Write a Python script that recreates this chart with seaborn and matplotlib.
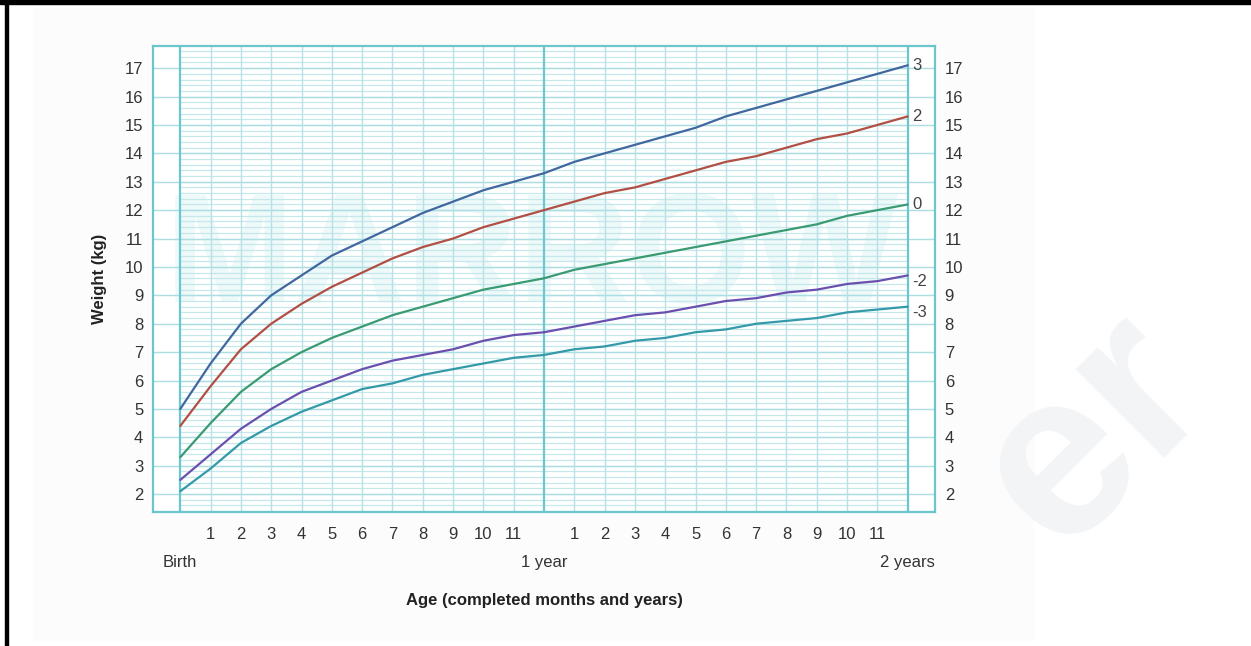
import numpy as np
import pandas as pd
import seaborn as sns
import matplotlib.pyplot as plt
from matplotlib.patches import Rectangle

# weight-for-age (kg), one value per completed month, birth .. 24 months
mesi = list(range(25))
z_piu3 = [5.0, 6.6, 8.0, 9.0, 9.7, 10.4, 10.9, 11.4, 11.9, 12.3, 12.7, 13.0, 13.3,
          13.7, 14.0, 14.3, 14.6, 14.9, 15.3, 15.6, 15.9, 16.2, 16.5, 16.8, 17.1]
z_piu2 = [4.4, 5.8, 7.1, 8.0, 8.7, 9.3, 9.8, 10.3, 10.7, 11.0, 11.4, 11.7, 12.0,
          12.3, 12.6, 12.8, 13.1, 13.4, 13.7, 13.9, 14.2, 14.5, 14.7, 15.0, 15.3]
z_zero = [3.3, 4.5, 5.6, 6.4, 7.0, 7.5, 7.9, 8.3, 8.6, 8.9, 9.2, 9.4, 9.6,
          9.9, 10.1, 10.3, 10.5, 10.7, 10.9, 11.1, 11.3, 11.5, 11.8, 12.0, 12.2]
z_meno2 = [2.5, 3.4, 4.3, 5.0, 5.6, 6.0, 6.4, 6.7, 6.9, 7.1, 7.4, 7.6, 7.7,
           7.9, 8.1, 8.3, 8.4, 8.6, 8.8, 8.9, 9.1, 9.2, 9.4, 9.5, 9.7]
z_meno3 = [2.1, 2.9, 3.8, 4.4, 4.9, 5.3, 5.7, 5.9, 6.2, 6.4, 6.6, 6.8, 6.9,
           7.1, 7.2, 7.4, 7.5, 7.7, 7.8, 8.0, 8.1, 8.2, 8.4, 8.5, 8.6]
etichette_z = ["3", "2", "0", "-2", "-3"]
tick_mesi = [m for m in range(1, 24) if m != 12]
tick_kg = list(range(2, 18))

curve = dict(zip(etichette_z, [z_piu3, z_piu2, z_zero, z_meno2, z_meno3]))
df = pd.concat([pd.DataFrame({"mese": mesi, "peso": v, "z": k}) for k, v in curve.items()])

colori = {"3": "#41679f", "2": "#b14f45", "0": "#3a9a72", "-2": "#6b4fae", "-3": "#3499a8"}
ciano = "#6cc6cd"

sns.set_style("white")
plt.rcParams["font.family"] = ["Liberation Sans", "DejaVu Sans"]

fig = plt.figure(figsize=(12.51, 6.46), dpi=100)
# sfondo leggermente grigio e bordo nero (screenshot ritagliato)
fig.patches.append(Rectangle((33 / 1251, 6 / 646), 1000 / 1251, 632 / 646,
                             transform=fig.transFigure, color="#fcfcfc", zorder=-10))
fig.patches.append(Rectangle((0, 1 - 4 / 646), 1, 4 / 646, transform=fig.transFigure,
                             color="black", zorder=10))
fig.patches.append(Rectangle((5 / 1251, 0), 3 / 1251, 1, transform=fig.transFigure,
                             color="black", zorder=10))
fig.text(0.875, 0.33, "er", fontsize=170, color="#f3f4f6", rotation=45,
         ha="center", va="center", fontweight="bold", zorder=-5)

ax = fig.add_axes([153 / 1251, 1 - 512 / 646, 782 / 1251, 466 / 646])
ax.set_facecolor("white")
x0, x1 = -0.9, 24.9
ax.set_xlim(x0, x1)
ax.set_ylim(1.37, 17.78)

# griglia
minori = np.round(np.arange(1.4, 17.8, 0.2), 1)
ax.hlines(minori, 0, 24, color="#c6e8eb", lw=0.9, zorder=1)
ax.hlines(tick_kg, x0, x1, color="#acdde1", lw=1.0, zorder=1)
ax.vlines(tick_mesi, 1.37, 17.78, color="#b8e1e5", lw=1.0, zorder=1)
ax.vlines([0, 12, 24], 1.37, 17.78, color=ciano, lw=1.6, zorder=2)
ax.text(11.6, 10.2, "MARROW", fontsize=112, color="#eef9fa", ha="center", va="center",
        zorder=0.5, fontweight="bold")

sns.lineplot(data=df, x="mese", y="peso", hue="z", palette=colori, legend=False,
             lw=1.6, ax=ax, zorder=3)

for k, v in curve.items():
    dy = -0.2 if k.startswith("-") else 0
    ax.text(24.15, v[-1] + dy, k, fontsize=12, color="#444444", ha="left", va="center")

for s in ax.spines.values():
    s.set_color(ciano)
    s.set_linewidth(1.6)

ax.set_yticks(tick_kg)
ax.set_yticklabels([str(t) for t in tick_kg])
ax.set_xticks(tick_mesi)
ax.set_xticklabels([str(m if m < 12 else m - 12) for m in tick_mesi])
ax.tick_params(axis="y", length=0, labelsize=12, labelcolor="#333333", pad=7,
               labelright=True)
ax.tick_params(axis="x", length=0, labelsize=12, labelcolor="#333333", pad=11)
ax.set_xlabel("")
ax.set_ylabel("")

trans = ax.get_xaxis_transform()
for m, t in [(0, "Birth"), (12, "1 year"), (24, "2 years")]:
    ax.text(m, -0.108, t, transform=trans, fontsize=12, color="#333333",
            ha="center", va="center")
ax.text(0.5, -0.189, "Age (completed months and years)", transform=ax.transAxes,
        fontsize=12, fontweight="bold", color="#222222", ha="center", va="center")
ax.text(-0.068, 0.5, "Weight (kg)", transform=ax.transAxes, rotation=90,
        fontsize=12, fontweight="bold", color="#222222", ha="center", va="center")

fig.savefig("out.png", dpi=100)
